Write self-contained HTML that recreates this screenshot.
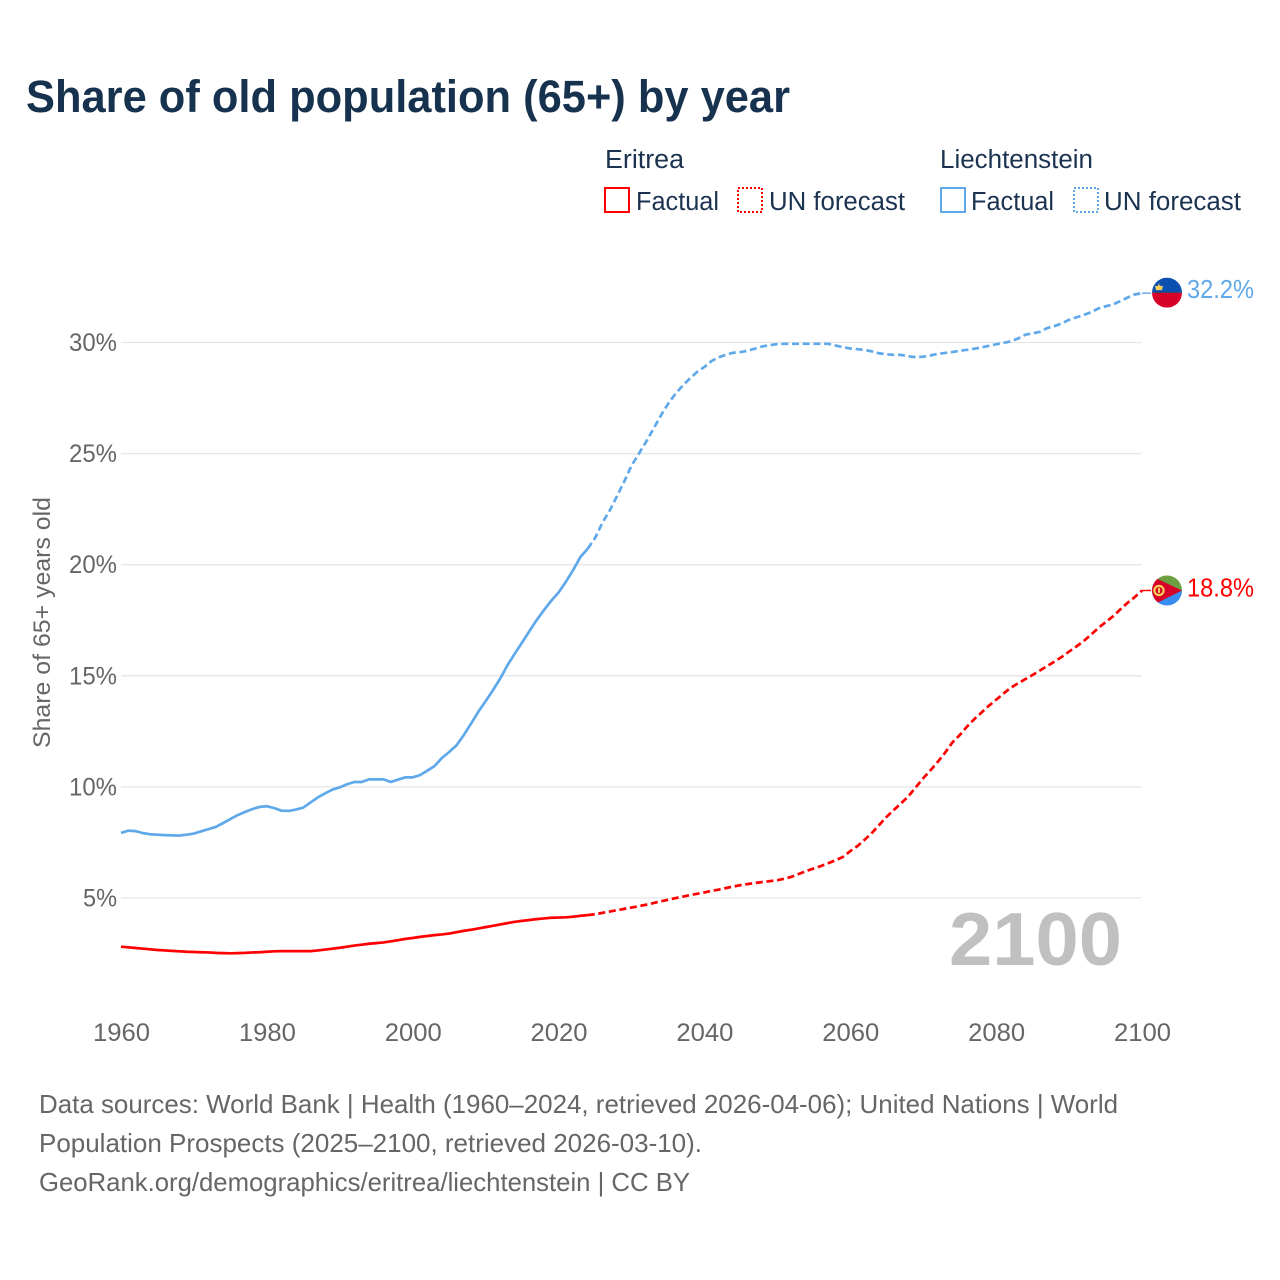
<!DOCTYPE html>
<html lang="en">
<head>
<meta charset="utf-8">
<title>Share of old population (65+) by year</title>
<style>
html,body{margin:0;padding:0;background:#fff;}
svg{display:block;}
text{font-family:"Liberation Sans",sans-serif;}
</style>
</head>
<body>
<svg id="chart" xmlns="http://www.w3.org/2000/svg" width="1280" height="1280" viewBox="0 0 1280 1280">
  <rect x="0" y="0" width="1280" height="1280" fill="#ffffff"/>
  <text x="26" y="112" font-size="45" font-weight="700" fill="#17324f" textLength="764" lengthAdjust="spacingAndGlyphs">Share of old population (65+) by year</text>

  <g fill="#1b3350" font-size="25.5">
    <text x="605" y="168" textLength="79" lengthAdjust="spacingAndGlyphs">Eritrea</text>
    <text x="940" y="168" textLength="153" lengthAdjust="spacingAndGlyphs">Liechtenstein</text>
    <rect x="605" y="188" width="24" height="24" fill="none" stroke="#ff0000" stroke-width="2"/>
    <text x="636" y="210" textLength="83" lengthAdjust="spacingAndGlyphs">Factual</text>
    <rect x="738" y="188" width="24" height="24" fill="none" stroke="#ff0000" stroke-width="2" stroke-dasharray="2 2"/>
    <text x="769" y="210" textLength="136" lengthAdjust="spacingAndGlyphs">UN forecast</text>
    <rect x="941" y="188" width="24" height="24" fill="none" stroke="#5fa8ea" stroke-width="2"/>
    <text x="971" y="210" textLength="83" lengthAdjust="spacingAndGlyphs">Factual</text>
    <rect x="1074" y="188" width="24" height="24" fill="none" stroke="#5fa8ea" stroke-width="2" stroke-dasharray="2 2"/>
    <text x="1104" y="210" textLength="137" lengthAdjust="spacingAndGlyphs">UN forecast</text>
  </g>

  <text transform="translate(50 748) rotate(-90)" font-size="24" fill="#666666" textLength="251" lengthAdjust="spacingAndGlyphs">Share of 65+ years old</text>

  <g id="grid"></g>
  <g id="yticks"></g>
  <g id="xticks"></g>

  <text x="949" y="965" font-size="75" font-weight="700" fill="#c0c0c0" textLength="173" lengthAdjust="spacingAndGlyphs">2100</text>

  <g id="series"></g>

  <g id="flag-li">
    <clipPath id="clip-li"><circle cx="0" cy="0" r="15"/></clipPath>
    <g clip-path="url(#clip-li)">
      <rect x="-15" y="-15" width="30" height="15" fill="#0a50b0"/>
      <rect x="-15" y="0" width="30" height="15" fill="#d70028"/>
      <rect x="-12" y="-0.8" width="24" height="1" fill="#26406a"/>
      <path d="M-11 -2.5 L-12 -7 L-10 -6.5 L-8.7 -7.2 L-8 -9.5 L-7.3 -7.2 L-6 -6.5 L-4 -7 L-5 -2.5 Z" fill="#f7cf5a"/>
    </g>
  </g>
  <g id="flag-er">
    <clipPath id="clip-er"><circle cx="0" cy="0" r="15"/></clipPath>
    <g clip-path="url(#clip-er)">
      <rect x="-15" y="-15" width="30" height="15" fill="#6ca040"/>
      <rect x="-15" y="0" width="30" height="15" fill="#3a8df0"/>
      <polygon points="-17,-15 15,0 -17,16" fill="#d70028"/>
      <circle cx="-8" cy="0" r="4.6" fill="none" stroke="#f7cf5a" stroke-width="2.2"/>
      <rect x="-9" y="-2.6" width="2" height="5" fill="#f7cf5a"/>
    </g>
  </g>
  <text id="label-li" x="1187" font-size="25.5" fill="#5fa8ea" textLength="67" lengthAdjust="spacingAndGlyphs"></text>
  <text id="label-er" x="1187" font-size="25.5" fill="#ff0000" textLength="67" lengthAdjust="spacingAndGlyphs"></text>

  <g font-size="26" fill="#666666">
    <text x="39" y="1113" textLength="1079" lengthAdjust="spacingAndGlyphs">Data sources: World Bank | Health (1960–2024, retrieved 2026-04-06); United Nations | World</text>
    <text x="39" y="1152" textLength="663" lengthAdjust="spacingAndGlyphs">Population Prospects (2025–2100, retrieved 2026-03-10).</text>
    <text x="39" y="1191" textLength="651" lengthAdjust="spacingAndGlyphs">GeoRank.org/demographics/eritrea/liechtenstein | CC BY</text>
  </g>
</svg>
<script>
const firstYear = 1960;
const forecastFirstYear = 2025;
const xTickYears = [1960, 1980, 2000, 2020, 2040, 2060, 2080, 2100];
const yTickValues = [5, 10, 15, 20, 25, 30];

const liechtensteinFactual = [
  7.93,8.03,8.01,7.92,7.87,7.85,7.83,7.82,7.81,7.85,
  7.9,8.0,8.1,8.2,8.37,8.55,8.73,8.87,9.0,9.1,
  9.13,9.05,8.93,8.92,8.98,9.07,9.3,9.53,9.71,9.88,
  9.98,10.12,10.22,10.22,10.34,10.34,10.34,10.22,10.33,10.43,
  10.43,10.53,10.73,10.94,11.3,11.57,11.87,12.33,12.85,13.38,
  13.86,14.35,14.88,15.48,16.0,16.5,17.01,17.51,17.96,18.38,
  18.75,19.23,19.76,20.35,20.72
];
const liechtensteinForecast = [
  21.2,21.88,22.43,23.08,23.74,24.46,24.99,25.53,26.11,26.7,
  27.23,27.68,28.05,28.38,28.68,28.9,29.17,29.34,29.46,29.54,
  29.57,29.64,29.73,29.83,29.88,29.93,29.94,29.94,29.94,29.94,
  29.94,29.94,29.94,29.86,29.79,29.73,29.7,29.66,29.6,29.51,
  29.47,29.44,29.44,29.38,29.34,29.36,29.42,29.49,29.53,29.57,
  29.63,29.67,29.72,29.78,29.85,29.92,29.98,30.05,30.18,30.35,
  30.41,30.48,30.65,30.74,30.86,31.02,31.13,31.24,31.36,31.53,
  31.63,31.71,31.86,32.02,32.16,32.22
];
const eritreaFactual = [
  2.81,2.78,2.75,2.72,2.69,2.66,2.64,2.62,2.60,2.58,
  2.57,2.56,2.55,2.53,2.52,2.51,2.52,2.53,2.55,2.56,
  2.58,2.60,2.61,2.61,2.61,2.61,2.61,2.64,2.68,2.72,
  2.76,2.81,2.86,2.90,2.94,2.97,3.00,3.05,3.10,3.16,
  3.20,3.25,3.29,3.33,3.36,3.40,3.46,3.52,3.57,3.63,
  3.69,3.75,3.81,3.87,3.93,3.97,4.01,4.05,4.08,4.11,
  4.12,4.13,4.16,4.20,4.23
];
const eritreaForecast = [
  4.27,4.33,4.39,4.45,4.51,4.57,4.63,4.70,4.77,4.85,
  4.92,4.99,5.06,5.13,5.19,5.25,5.32,5.38,5.45,5.52,
  5.58,5.63,5.68,5.72,5.76,5.80,5.87,5.96,6.09,6.22,
  6.33,6.44,6.57,6.70,6.85,7.11,7.34,7.63,7.94,8.30,
  8.66,8.97,9.27,9.59,9.99,10.39,10.75,11.13,11.54,12.0,
  12.33,12.71,13.05,13.35,13.65,13.92,14.2,14.46,14.66,14.85,
  15.04,15.24,15.44,15.64,15.85,16.09,16.32,16.56,16.85,17.15,
  17.41,17.67,17.98,18.28,18.54,18.84
];

const NS = 'http://www.w3.org/2000/svg';
function xScale(year) { return 121 + (year - 1960) * (1021 / 140); }
function yScale(value) { return 898 - (value - 5) * 22.22; }

function pathFrom(startYear, values) {
  return values.map(function (v, i) {
    return (i ? 'L' : 'M') + xScale(startYear + i).toFixed(2) + ' ' + yScale(v).toFixed(2);
  }).join(' ');
}

const gridGroup = document.getElementById('grid');
const yTickGroup = document.getElementById('yticks');
yTickValues.forEach(function (v) {
  const line = document.createElementNS(NS, 'line');
  
  
  line.setAttribute('x1', 121);
  line.setAttribute('x2', 1141.5);
  line.setAttribute('y1', yScale(v));
  line.setAttribute('y2', yScale(v));
  line.setAttribute('stroke', '#e6e6e6');
  line.setAttribute('stroke-width', 1.3);
  gridGroup.appendChild(line);

  const label = document.createElementNS(NS, 'text');
  
  
  const width = v < 10 ? 34 : 48;
  label.setAttribute('x', 117 - width);
  label.setAttribute('y', yScale(v) + 8.5);
  label.setAttribute('font-size', 25);
  label.setAttribute('fill', '#666666');
  label.setAttribute('textLength', width);
  label.setAttribute('lengthAdjust', 'spacingAndGlyphs');
  label.textContent = v + '%';
  yTickGroup.appendChild(label);
});

const xTickGroup = document.getElementById('xticks');
xTickYears.forEach(function (yr) {
  const label = document.createElementNS(NS, 'text');
  
  
  label.setAttribute('x', xScale(yr) - 28.5 + 0.5);
  label.setAttribute('y', 1041);
  label.setAttribute('font-size', 25);
  label.setAttribute('fill', '#666666');
  label.setAttribute('textLength', 57);
  label.setAttribute('lengthAdjust', 'spacingAndGlyphs');
  label.textContent = yr;
  xTickGroup.appendChild(label);
});

const seriesGroup = document.getElementById('series');

function addFactual(values, color, name) {
  const p = document.createElementNS(NS, 'path');
  
  
  p.setAttribute('d', pathFrom(firstYear, values));
  p.setAttribute('fill', 'none');
  p.setAttribute('stroke', color);
  p.setAttribute('stroke-width', 2.7);
  p.setAttribute('stroke-linejoin', 'round');
  seriesGroup.appendChild(p);
}

function addForecast(factual, values, color, name) {
  const joined = [factual[factual.length - 1]].concat(values);
  const p = document.createElementNS(NS, 'path');
  
  
  p.setAttribute('d', pathFrom(forecastFirstYear - 1, joined));
  p.setAttribute('fill', 'none');
  p.setAttribute('stroke', color);
  p.setAttribute('stroke-width', 2.7);
  p.setAttribute('stroke-dasharray', '7 3.7');
  p.setAttribute('stroke-linejoin', 'round');
  seriesGroup.appendChild(p);
}

function addLeader(values, color, name) {
  const last = values[values.length - 1];
  const l = document.createElementNS(NS, 'line');
  
  
  l.setAttribute('x1', xScale(2100));
  l.setAttribute('x2', xScale(2100) + 9);
  l.setAttribute('y1', yScale(last));
  l.setAttribute('y2', yScale(last));
  l.setAttribute('stroke', color);
  l.setAttribute('stroke-width', 1.4);
  seriesGroup.appendChild(l);
}

addFactual(liechtensteinFactual, '#5fa8ea', 'liechtenstein-factual-line');
addForecast(liechtensteinFactual, liechtensteinForecast, '#5fa8ea', 'liechtenstein-forecast-line');
addLeader(liechtensteinForecast, '#5fa8ea', 'liechtenstein-leader-line');
addFactual(eritreaFactual, '#ff0000', 'eritrea-factual-line');
addForecast(eritreaFactual, eritreaForecast, '#ff0000', 'eritrea-forecast-line');
addLeader(eritreaForecast, '#ff0000', 'eritrea-leader-line');

const liLast = liechtensteinForecast[liechtensteinForecast.length - 1];
const erLast = eritreaForecast[eritreaForecast.length - 1];
document.getElementById('flag-li').setAttribute('transform', 'translate(' + (xScale(2100) + 25) + ' ' + (yScale(liLast) - 0.5) + ')');
document.getElementById('flag-er').setAttribute('transform', 'translate(' + (xScale(2100) + 25) + ' ' + yScale(erLast) + ')');
const labelLi = document.getElementById('label-li');
labelLi.setAttribute('y', yScale(liLast) + 5);
labelLi.textContent = liLast.toFixed(1) + '%';
const labelEr = document.getElementById('label-er');
labelEr.setAttribute('y', yScale(erLast) + 6);
labelEr.textContent = erLast.toFixed(1) + '%';
</script>
</body>
</html>
